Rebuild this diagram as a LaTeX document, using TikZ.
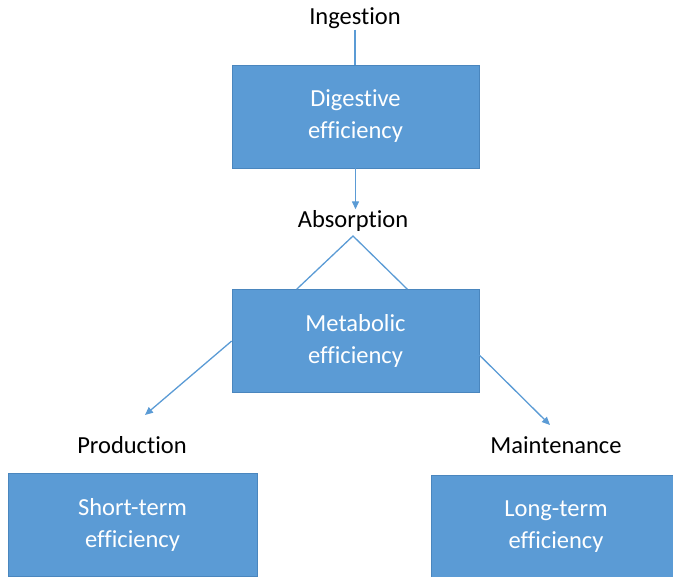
\documentclass[tikz,border=0pt]{standalone}
\usepackage{fontspec}
\setmainfont{Carlito}[Ligatures=NoCommon]
\usetikzlibrary{arrows.meta}
\definecolor{boxblue}{HTML}{5B9BD5}
\definecolor{boxedge}{HTML}{4A86BE}
\begin{document}
\begin{tikzpicture}[x=1pt,y=-1pt,
    font=\fontsize{24.5}{32}\selectfont,
    effbox/.style={draw=boxedge,line width=0.6pt,fill=boxblue,text=white,
      align=center,minimum width=247pt,minimum height=103pt,inner sep=0pt},
    stage/.style={inner sep=1pt},
    link/.style={draw=boxblue,line width=1.3pt},
    arrow/.style={link,-{Triangle[length=8pt,width=7pt]}}
  ]
  \clip (0,0) rectangle (673,577);
  % efficiency boxes
  \node[effbox] (dig) at (355.5,116.5) {Digestive\\efficiency};
  \node[effbox] (met) at (355.5,341) {Metabolic\\efficiency};
  \node[effbox,minimum width=249pt] (short) at (132.5,525) {Short-term\\efficiency};
  \node[effbox,minimum width=250pt] (long) at (556,527) {Long-term\\efficiency};
  % stages
  \node[stage] (ing) at (355,18) {Ingestion};
  \node[stage] (abs) at (353,221) {Absorption};
  \node[stage] (prod) at (132,445) {Production};
  \node[stage] (maint) at (556,445) {Maintenance};
  % free ends
  \coordinate (lfoot) at ([xshift=65pt]met.north west);
  \coordinate (rfoot) at ([xshift=-72pt]met.north east);
  \coordinate (apex) at (353,236);
  \coordinate (rstart) at ([yshift=-14pt]met.east);
  \coordinate (pend) at (145,415);
  \coordinate (mend) at (550,425);
  % connectors
  \draw[link] (ing.south) -- (ing.south |- dig.north);
  \draw[arrow] (dig.south) -- (dig.south |- abs.north);
  \draw[link] (lfoot) -- (apex) -- (rfoot);
  \draw[arrow] (met.west) -- (pend);
  \draw[arrow] (rstart) -- (mend);
\end{tikzpicture}
\end{document}
